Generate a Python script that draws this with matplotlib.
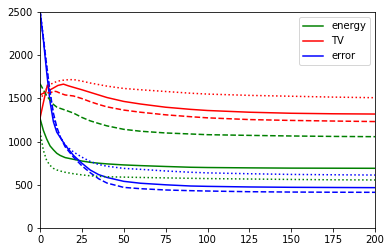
import numpy as np
import matplotlib
matplotlib.use("Agg")
import matplotlib.pyplot as plt

# iteration grid shared by most curves
x = [0, 2, 4, 6, 8, 10, 12, 15, 20, 25, 30, 35, 40, 50, 60, 75, 90, 100, 125, 150, 175, 200]

# energy (green)
energy_solid = [1270, 1130, 1030, 950, 905, 865, 840, 815, 795, 775, 760, 750, 742, 730, 722, 712, 703, 700, 696, 693, 692, 691]
energy_dash = [1670, 1600, 1530, 1480, 1430, 1400, 1385, 1365, 1330, 1280, 1240, 1210, 1182, 1142, 1120, 1100, 1088, 1080, 1072, 1065, 1060, 1057]
energy_dot = [1115, 900, 780, 725, 690, 672, 660, 645, 628, 615, 604, 598, 593, 589, 585, 580, 575, 572, 567, 562, 558, 556]

# TV (red) - solid has its own grid for the bump near the start
x_tv = [0, 2, 4.4, 5.8, 8, 10.7, 14, 17, 20, 25, 30, 35, 40, 50, 60, 75, 90, 100, 125, 150, 175, 200]
tv_solid = [1270, 1450, 1655, 1597, 1620, 1650, 1665, 1645, 1628, 1600, 1570, 1540, 1510, 1465, 1435, 1398, 1373, 1360, 1340, 1328, 1322, 1319]
tv_dash = [1540, 1560, 1570, 1560, 1585, 1578, 1560, 1540, 1528, 1498, 1462, 1430, 1402, 1365, 1340, 1310, 1288, 1275, 1255, 1245, 1238, 1232]
tv_dot = [1480, 1550, 1615, 1660, 1680, 1695, 1705, 1714, 1718, 1700, 1678, 1660, 1642, 1615, 1600, 1580, 1560, 1550, 1535, 1525, 1515, 1508]

# error (blue)
error_solid = [2520, 2180, 1800, 1460, 1230, 1110, 1050, 960, 840, 750, 671, 618, 585, 540, 518, 500, 486, 482, 475, 471, 469, 467]
error_dash = [2520, 2200, 1880, 1580, 1330, 1170, 1060, 940, 820, 720, 640, 570, 520, 470, 455, 440, 432, 428, 420, 416, 414, 413]
error_dot = [2520, 2200, 1860, 1550, 1300, 1150, 1060, 960, 880, 820, 770, 735, 715, 690, 679, 660, 645, 638, 628, 620, 616, 613]

fig = plt.figure(figsize=(391 / 72, 252 / 72), dpi=72)
ax = fig.add_axes([40 / 391, 1 - 228 / 252, 335 / 391, 216 / 252])

ax.plot(x, energy_solid, 'g', label='energy')
ax.plot(x_tv, tv_solid, 'r', label='TV')
ax.plot(x, error_solid, 'b', label='error')
ax.plot(x, energy_dash, 'g--')
ax.plot(x, tv_dash, 'r--')
ax.plot(x, error_dash, 'b--')
ax.plot(x, energy_dot, 'g:')
ax.plot(x, tv_dot, 'r:')
ax.plot(x, error_dot, 'b:')

ax.set_xlim(0, 200)
ax.set_ylim(0, 2500)
ax.legend(loc='upper right')

fig.savefig('out.png', dpi=72)
